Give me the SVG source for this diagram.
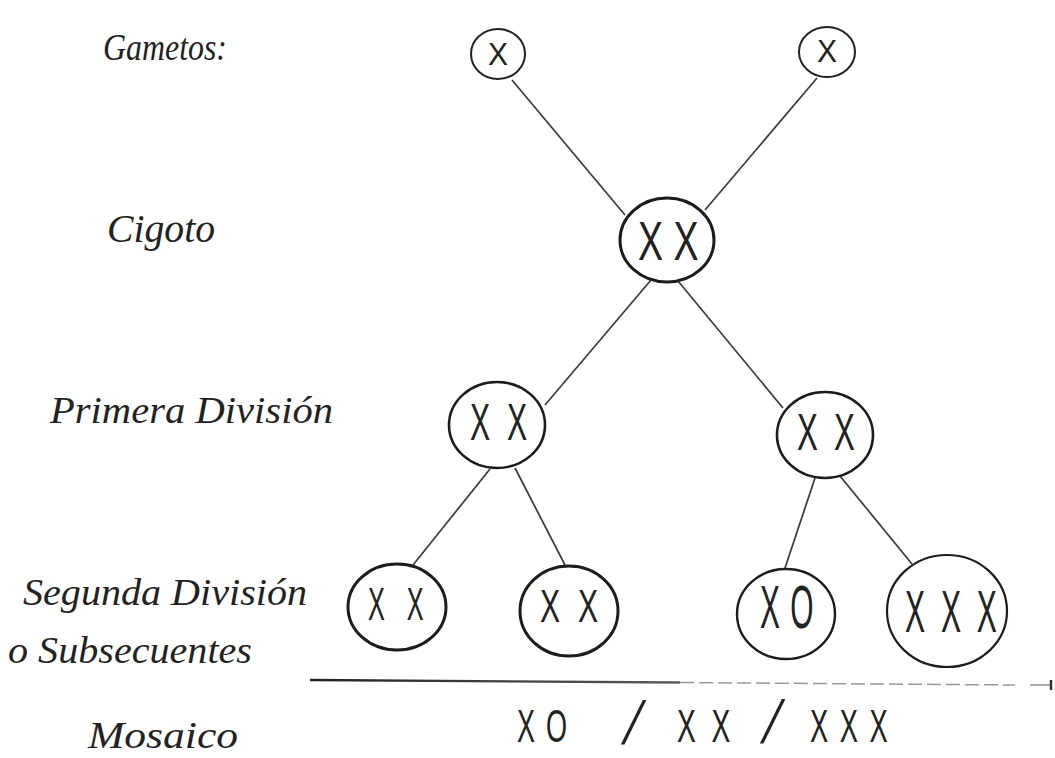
<svg xmlns="http://www.w3.org/2000/svg" width="1055" height="758" viewBox="0 0 1055 758">
<style>
.lbl{font-family:"Liberation Serif","DejaVu Serif",serif;font-style:italic;font-size:37px;fill:#222}
.x{font-family:"Liberation Sans","DejaVu Sans",sans-serif;fill:#222}
.cell{fill:#fff;stroke:#1c1c1c;stroke-width:3}
.gam{fill:#fff;stroke:#222;stroke-width:2}
.con{stroke:#3a3a3a;stroke-width:1.7;fill:none}
</style>
<defs>
<linearGradient id="fade" x1="310" y1="0" x2="1050" y2="0" gradientUnits="userSpaceOnUse">
<stop offset="0" stop-color="#222"/>
<stop offset="0.45" stop-color="#555"/>
<stop offset="1" stop-color="#aaa"/>
</linearGradient>
<marker id="tick" markerWidth="6" markerHeight="12" refX="3" refY="6" orient="auto" markerUnits="userSpaceOnUse">
<path d="M3,1 L3,11" stroke="#333" stroke-width="2.5"/>
</marker>
</defs>
<rect width="1055" height="758" fill="#fff"/>

<g id="labels">
<text class="lbl" x="103" y="60" textLength="124" lengthAdjust="spacingAndGlyphs">Gametos:</text>
<text class="lbl" x="107" y="242" textLength="108" lengthAdjust="spacingAndGlyphs" style="font-size:40px">Cigoto</text>
<text class="lbl" x="50" y="423" textLength="283" lengthAdjust="spacingAndGlyphs">Primera División</text>
<text class="lbl" x="23" y="605" textLength="284" lengthAdjust="spacingAndGlyphs">Segunda División</text>
<text class="lbl" x="8" y="663" textLength="244" lengthAdjust="spacingAndGlyphs">o Subsecuentes</text>
<text class="lbl" x="88" y="748" textLength="150" lengthAdjust="spacingAndGlyphs">Mosaico</text>
</g>

<g id="connectors">
<line class="con" x1="512" y1="80" x2="625" y2="215"/>
<line class="con" x1="817" y1="78" x2="705" y2="210"/>
<line class="con" x1="651" y1="280" x2="545" y2="405"/>
<line class="con" x1="678" y1="281" x2="783" y2="408"/>
<line class="con" x1="490" y1="469" x2="413" y2="565"/>
<line class="con" x1="515" y1="468" x2="565" y2="565"/>
<line class="con" x1="815" y1="478" x2="785" y2="568"/>
<line class="con" x1="840" y1="476" x2="912" y2="564"/>
</g>

<g id="gamete-left">
<ellipse class="gam" cx="498" cy="54" rx="27" ry="25"/>
<text class="x" font-size="31" transform="translate(488,65) scale(0.97,1)">X</text>
</g>
<g id="gamete-right">
<ellipse class="gam" cx="827" cy="52" rx="28" ry="25"/>
<text class="x" font-size="31" transform="translate(817,62) scale(0.97,1)">X</text>
</g>
<g id="zygote">
<ellipse class="cell" cx="667" cy="240" rx="47" ry="42"/>
<text class="x" font-size="56" letter-spacing="15.6" transform="translate(638,260) scale(0.67,1)">XX</text>
</g>
<g id="div1-left">
<ellipse class="cell" cx="497" cy="425" rx="48" ry="43" style="stroke-width:2.6"/>
<text class="x" font-size="52" letter-spacing="29" transform="translate(470,440) scale(0.58,1)">XX</text>
</g>
<g id="div1-right">
<ellipse class="cell" cx="825" cy="435" rx="48" ry="43" style="stroke-width:2.6"/>
<text class="x" font-size="52" letter-spacing="27" transform="translate(797,450) scale(0.6,1)">XX</text>
</g>
<g id="div2-1">
<ellipse class="cell" cx="397" cy="607" rx="49" ry="43"/>
<text class="x" font-size="46" letter-spacing="40" transform="translate(368,620) scale(0.55,1)">XX</text>
</g>
<g id="div2-2">
<ellipse class="cell" cx="569" cy="611" rx="49" ry="45"/>
<text class="x" font-size="47" letter-spacing="28" transform="translate(540,622) scale(0.64,1)">XX</text>
</g>
<g id="div2-3">
<ellipse class="cell" cx="786" cy="614" rx="49" ry="45" style="stroke-width:2.4"/>
<text class="x" font-size="61" letter-spacing="21" transform="translate(760,628) scale(0.49,1)">XO</text>
</g>
<g id="div2-4">
<ellipse class="cell" cx="947" cy="611" rx="60" ry="56" style="stroke-width:2.2"/>
<text class="x" font-size="59" letter-spacing="31" transform="translate(905,632) scale(0.51,1)">XXX</text>
</g>

<g id="mosaic-axis">
<line x1="310" y1="680" x2="680" y2="682.5" stroke="url(#fade)" stroke-width="2.4"/>
<line x1="680" y1="682.5" x2="1015" y2="685" stroke="#999" stroke-width="1.5" stroke-dasharray="14 5"/>
<line x1="1030" y1="685" x2="1051" y2="685" stroke="#888" stroke-width="1.4" marker-end="url(#tick)"/>
</g>

<g id="mosaic">
<text class="x" font-size="47" letter-spacing="19" transform="translate(517,742) scale(0.575,1)">XO</text>
<text class="x" font-size="46" transform="translate(621,744) skewX(-16) scale(1,1.32)">/</text>
<text class="x" font-size="47" letter-spacing="26" transform="translate(677,742) scale(0.6,1)">XX</text>
<text class="x" font-size="46" transform="translate(760,743) skewX(-16) scale(1,1.32)">/</text>
<text class="x" font-size="47" letter-spacing="20" transform="translate(810,742) scale(0.58,1)">XXX</text>
</g>
</svg>
